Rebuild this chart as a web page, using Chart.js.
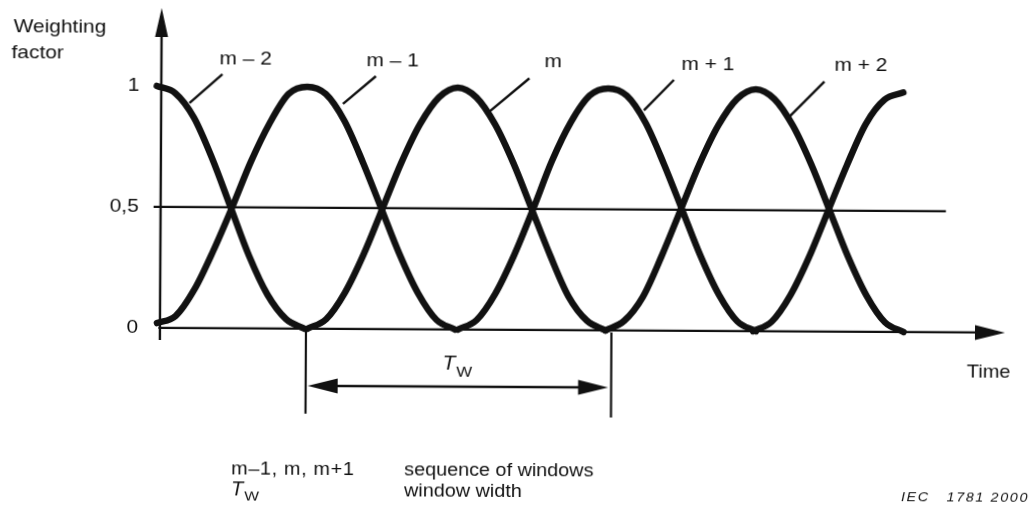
<!DOCTYPE html>
<html>
<head>
<meta charset="utf-8">
<title>Weighting windows</title>
<script src="https://cdn.jsdelivr.net/npm/chart.js@4"></script>
<style>
  html, body { margin: 0; padding: 0; background: #fff; }
  #wrap { width: 1033px; height: 514px; overflow: hidden; background: #fff; }
  #windows { display: block; transform: rotate(0.32deg); transform-origin: 160px 328px; }
</style>
</head>
<body>
<div id="wrap"><canvas id="windows" width="1033" height="514"></canvas></div>
<script>
const INK = '#111';
const FONT = '"Liberation Sans", Arial, Helvetica, sans-serif';

// windows in time order (the last one is not labelled)
const windowNames = ['m – 2', 'm – 1', 'm', 'm + 1', 'm + 2', 'm + 3'];
// centre of each window on the time axis, one unit = half a window
const windowCentres = [-0.03, 0.98, 1.99, 3.0, 3.99, 4.98];
// sample positions relative to the window centre
const sampleOffsets = [-1, -0.875, -0.75, -0.625, -0.5, -0.375, -0.25, -0.125, 0,
  0.125, 0.25, 0.375, 0.5, 0.625, 0.75, 0.875, 1];

const weightsM2 = [null, null, null, null, null, null, null, null, 1.0,
  0.97, 0.87, 0.7, 0.5, 0.3, 0.14, 0.04, 0.0];
const weightsM1 = [0.02, 0.05, 0.16, 0.32, 0.5, 0.69, 0.85, 0.97, 1.0,
  0.97, 0.86, 0.69, 0.5, 0.31, 0.15, 0.04, 0.0];
const weightsM = [0.0, 0.04, 0.15, 0.31, 0.5, 0.69, 0.85, 0.96, 1.0,
  0.96, 0.85, 0.69, 0.5, 0.31, 0.14, 0.04, 0.0];
const weightsP1 = [0.0, 0.04, 0.15, 0.31, 0.5, 0.7, 0.86, 0.97, 1.0,
  0.97, 0.86, 0.69, 0.5, 0.31, 0.15, 0.04, 0.0];
const weightsP2 = [0.0, 0.04, 0.14, 0.31, 0.5, 0.69, 0.85, 0.96, 1.0,
  0.96, 0.85, 0.69, 0.5, 0.31, 0.15, 0.04, 0.0];
const weightsP3 = [0.0, 0.04, 0.15, 0.31, 0.5, 0.69, 0.86, 0.96, 0.99,
  null, null, null, null, null, null, null, null];
const windowWeights = [weightsM2, weightsM1, weightsM, weightsP1, weightsP2, weightsP3];

const yTicks = [0, 0.5, 1];
const yTickLabels = ['0', '0,5', '1'];
const midLevel = 0.5;

// window width T_W, measured between two minima
const twFrom = 0.98;
const twTo = 3.03;

// leader lines from the curves to the window names (time, weight)
const leaderFrom = [[0.19, 0.93], [1.22, 0.93], [2.2, 0.9], [3.24, 0.91], [4.22, 0.89]];
const leaderTo = [[0.41, 1.05], [1.44, 1.045], [2.47, 1.04], [3.44, 1.037], [4.45, 1.033]];
const nameAt = [[0.39, 1.09], [1.376, 1.087], [2.57, 1.087], [3.49, 1.079], [4.517, 1.079]];

function drawText(ctx, str, x, y, font, opts = {}) {
  const sx = opts.stretch || 1.1;
  ctx.save();
  ctx.font = font;
  ctx.fillStyle = INK;
  ctx.textBaseline = opts.baseline || 'alphabetic';
  ctx.textAlign = 'left';
  if (opts.spacing) ctx.letterSpacing = opts.spacing + 'px';
  const w = ctx.measureText(str).width * sx;
  let left = x;
  if (opts.align === 'right') left = x - w;
  if (opts.align === 'center') left = x - w / 2;
  ctx.translate(left, y);
  ctx.scale(sx, 1);
  ctx.fillText(str, 0, 0);
  ctx.restore();
  return left + w;
}

function arrowHead(ctx, tipX, tipY, dx, dy, len, half) {
  // dx, dy: unit direction the arrow points to
  const bx = tipX - dx * len, by = tipY - dy * len;
  ctx.beginPath();
  ctx.moveTo(tipX, tipY);
  ctx.lineTo(bx - dy * half, by + dx * half);
  ctx.lineTo(bx + dy * half, by - dx * half);
  ctx.closePath();
  ctx.fill();
}

function line(ctx, x1, y1, x2, y2, w) {
  ctx.lineWidth = w;
  ctx.beginPath();
  ctx.moveTo(x1, y1);
  ctx.lineTo(x2, y2);
  ctx.stroke();
}

const axesPlugin = {
  id: 'axesPlugin',
  beforeDatasetsDraw(chart) {
    const { ctx, chartArea, scales: { x, y } } = chart;
    ctx.save();
    ctx.strokeStyle = INK;
    ctx.fillStyle = INK;
    ctx.lineCap = 'butt';

    const x0 = x.getPixelForValue(0);
    const y0 = y.getPixelForValue(0);

    // vertical axis with arrow
    line(ctx, x0, chartArea.bottom, x0, chartArea.top + 20, 2.4);
    arrowHead(ctx, x0, chartArea.top, 0, -1, 29, 6.5);

    // time axis with arrow
    line(ctx, x.getPixelForValue(-0.01), y0, chartArea.right - 20, y0, 2.4);
    arrowHead(ctx, chartArea.right, y0, 1, 0, 30, 7.5);

    // half-weight level
    const yMid = y.getPixelForValue(midLevel);
    line(ctx, x.getPixelForValue(-0.047), yMid, x.getPixelForValue(5.27), yMid, 2.4);

    // tick labels
    yTicks.forEach((t, i) => {
      drawText(ctx, yTickLabels[i], 138, y.getPixelForValue(t), '19px ' + FONT,
        { align: 'right', baseline: 'middle' });
    });
    ctx.restore();
  },
  afterDraw(chart) {
    const { ctx, scales: { x, y } } = chart;
    ctx.save();
    ctx.strokeStyle = INK;
    ctx.fillStyle = INK;

    // window names and leaders
    leaderFrom.forEach((p, i) => {
      line(ctx, x.getPixelForValue(p[0]), y.getPixelForValue(p[1]),
        x.getPixelForValue(leaderTo[i][0]), y.getPixelForValue(leaderTo[i][1]), 2.4);
      drawText(ctx, windowNames[i], x.getPixelForValue(nameAt[i][0]),
        y.getPixelForValue(nameAt[i][1]), '19px ' + FONT);
    });

    // window width dimension
    const y0 = y.getPixelForValue(0);
    const xa = x.getPixelForValue(twFrom);
    const xb = x.getPixelForValue(twTo);
    const yDim = y.getPixelForValue(-0.236);
    line(ctx, xa, y0 + 2, xa, y.getPixelForValue(-0.351), 2.2);
    line(ctx, xb, y0 + 2, xb, y.getPixelForValue(-0.36), 2.2);
    line(ctx, xa + 20, yDim, xb - 20, yDim, 2.4);
    arrowHead(ctx, xa + 2, yDim, -1, 0, 30, 7.5);
    arrowHead(ctx, xb - 3, yDim, 1, 0, 30, 7.5);
    const tx = (xa + xb) / 2 - 16;
    const tEnd = drawText(ctx, 'T', tx, y.getPixelForValue(-0.165), 'italic 21px ' + FONT, { stretch: 1 });
    drawText(ctx, 'W', tEnd + 1, y.getPixelForValue(-0.195), '14px ' + FONT, { stretch: 1.2 });

    // axis titles
    drawText(ctx, 'Weighting', 12, 33, '19px ' + FONT);
    drawText(ctx, 'factor', 10, 59, '19px ' + FONT);
    drawText(ctx, 'Time', 967, 373, '19px ' + FONT, { stretch: 1.05 });

    // key
    drawText(ctx, 'm–1, m, m+1', 232, 474, '18px ' + FONT, { stretch: 1.1, spacing: 0.6 });
    drawText(ctx, 'sequence of windows', 405, 474, '18px ' + FONT, { stretch: 1.1 });
    const kEnd = drawText(ctx, 'T', 232, 495, 'italic 20px ' + FONT, { stretch: 1 });
    drawText(ctx, 'W', kEnd + 1, 500, '13px ' + FONT, { stretch: 1.2 });
    drawText(ctx, 'window width', 405, 495, '18px ' + FONT, { stretch: 1.1 });
    drawText(ctx, 'IEC   1781 2000', 1030, 497, 'italic 13px ' + FONT,
      { align: 'right', stretch: 1.1, spacing: 1.5 });
    ctx.restore();
  }
};

const datasets = windowWeights.map((weights, i) => ({
  label: windowNames[i],
  data: weights.map((w, k) => ({ x: windowCentres[i] + sampleOffsets[k], y: w })),
  borderColor: INK,
  borderWidth: 6.5,
  borderCapStyle: 'round',
  borderJoinStyle: 'round',
  pointRadius: 0,
  fill: false,
  cubicInterpolationMode: 'monotone',
  clip: false,
}));

new Chart(document.getElementById('windows'), {
  type: 'line',
  data: { datasets },
  options: {
    responsive: false,
    animation: false,
    devicePixelRatio: 1,
    layout: { padding: { left: 151, right: 28, top: 8, bottom: 174 } },
    plugins: { legend: { display: false }, tooltip: { enabled: false } },
    scales: {
      x: { type: 'linear', min: -0.06, max: 5.671, display: false },
      y: { type: 'linear', min: -0.05, max: 1.322, display: false },
    },
  },
  plugins: [axesPlugin],
});
</script>
</body>
</html>
